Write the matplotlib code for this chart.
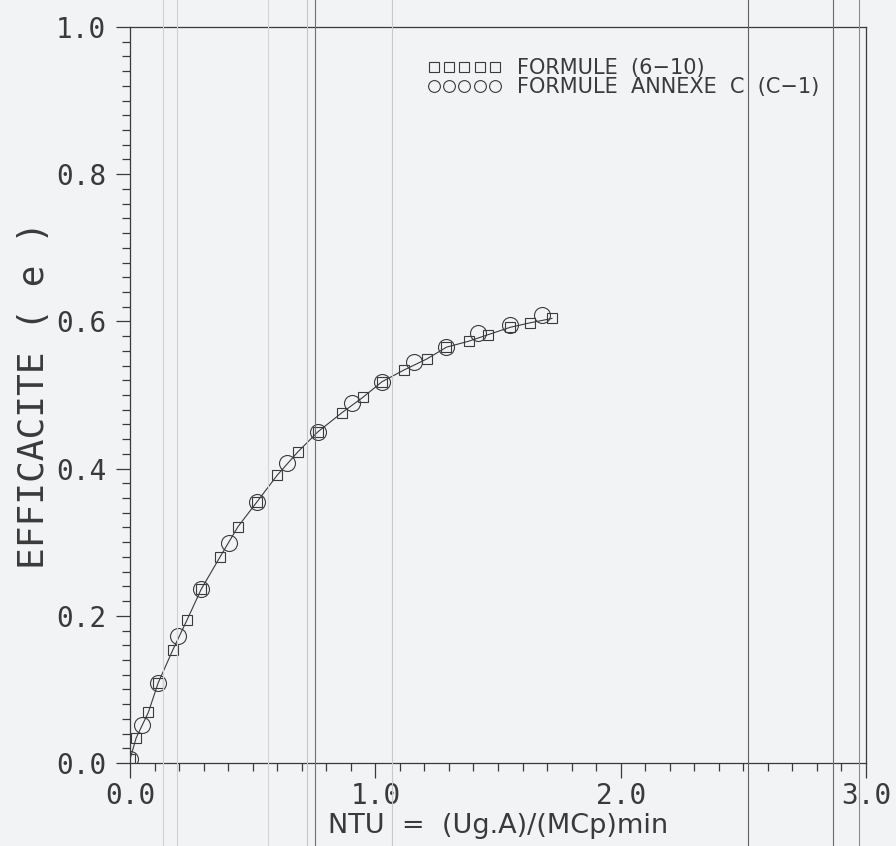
import matplotlib
matplotlib.use("Agg")
import matplotlib.pyplot as plt
from matplotlib.lines import Line2D
from matplotlib.ticker import MultipleLocator, FormatStrFormatter

# Efficiency vs NTU, formula (6-10): squares joined by a line
ntu_formule = [0.0, 0.025, 0.075, 0.115, 0.175, 0.232, 0.29, 0.367, 0.44, 0.518,
               0.60, 0.685, 0.766, 0.864, 0.95, 1.027, 1.117, 1.21, 1.29, 1.38,
               1.46, 1.55, 1.63, 1.72]
eff_formule = [0.005, 0.034, 0.069, 0.109, 0.154, 0.194, 0.236, 0.280, 0.321, 0.355,
               0.391, 0.423, 0.450, 0.476, 0.497, 0.518, 0.534, 0.549, 0.565, 0.573,
               0.582, 0.592, 0.598, 0.604]

# Efficiency vs NTU, annex C formula (C-1): open circles
ntu_annexe = [0.0, 0.05, 0.115, 0.195, 0.29, 0.404, 0.518, 0.64, 0.766, 0.905,
              1.027, 1.157, 1.29, 1.42, 1.55, 1.68]
eff_annexe = [0.005, 0.052, 0.109, 0.173, 0.236, 0.299, 0.355, 0.408, 0.450, 0.489,
              0.518, 0.545, 0.565, 0.584, 0.595, 0.609]

legend_labels = ["FORMULE  (6\u221210)", "FORMULE  ANNEXE  C  (C\u22121)"]
x_label = "NTU  =  (Ug.A)/(MCp)min"
y_label = "EFFICACITE ( e )"

PAPER = "#f2f3f5"
INK = "#3a3a3a"
MONO = "DejaVu Sans Mono"

fig = plt.figure(figsize=(8.96, 8.46), dpi=100, facecolor=PAPER)
W, H = 896, 846
ax = fig.add_axes([130 / W, 1 - 763 / H, 736 / W, 736 / H])
ax.set_facecolor(PAPER)

ax.plot(ntu_formule, eff_formule, "-", color=INK, lw=0.8,
        marker="s", ms=6.5, mfc="none", mec=INK, mew=0.8)
ax.plot(ntu_annexe, eff_annexe, linestyle="none",
        marker="o", ms=11.5, mfc="none", mec=INK, mew=0.8)

ax.set_xlim(0, 3)
ax.set_ylim(0, 1)
ax.xaxis.set_major_locator(MultipleLocator(1.0))
ax.xaxis.set_minor_locator(MultipleLocator(0.1))
ax.yaxis.set_major_locator(MultipleLocator(0.2))
ax.yaxis.set_minor_locator(MultipleLocator(0.02))
ax.xaxis.set_major_formatter(FormatStrFormatter("%.1f"))
ax.yaxis.set_major_formatter(FormatStrFormatter("%.1f"))

for sp in ax.spines.values():
    sp.set_color(INK)
    sp.set_linewidth(0.9)

ax.tick_params(which="both", direction="out", color=INK, width=0.9,
               labelcolor=INK, labelsize=20, labelfontfamily=MONO)
ax.tick_params(axis="x", which="major", length=10.5, pad=3)
ax.tick_params(axis="x", which="minor", length=6)
ax.tick_params(axis="y", which="major", length=10, pad=7)
ax.tick_params(axis="y", which="minor", length=5.5)

ax.set_xlabel(x_label, family="DejaVu Sans", fontsize=19.5, color=INK, labelpad=2)
ax.set_ylabel(y_label, family=MONO, fontsize=26, color=INK, labelpad=4)

handles = [
    Line2D([], [], linestyle="none", marker="s", ms=6.5, mfc="none", mec=INK, mew=0.8),
    Line2D([], [], linestyle="none", marker="o", ms=8.5, mfc="none", mec=INK, mew=0.8),
]
leg = ax.legend(handles, legend_labels, numpoints=5, frameon=False,
                loc="upper left", bbox_to_anchor=(428 / W, 1 - 58 / H),
                bbox_transform=fig.transFigure, borderpad=0, borderaxespad=0,
                handlelength=3.5, handletextpad=0.75, labelspacing=-0.04,
                prop={"family": "DejaVu Sans", "size": 15})
for t in leg.get_texts():
    t.set_color(INK)

# photocopy streaks running down the sheet
for xp, col in [(163, "#cfd0d2"), (177, "#cfd0d2"), (268, "#d4d5d7"),
                (307, "#c4c5c7"), (315, "#707070"), (392, "#c8c9cb"),
                (748, "#606060"), (833, "#6a6a6a"), (859, "#8a8a8a")]:
    fig.add_artist(Line2D([xp / W, xp / W], [0, 1], transform=fig.transFigure,
                          color=col, lw=0.8, zorder=0.5))

fig.savefig("out.png", dpi=100, facecolor=PAPER)
